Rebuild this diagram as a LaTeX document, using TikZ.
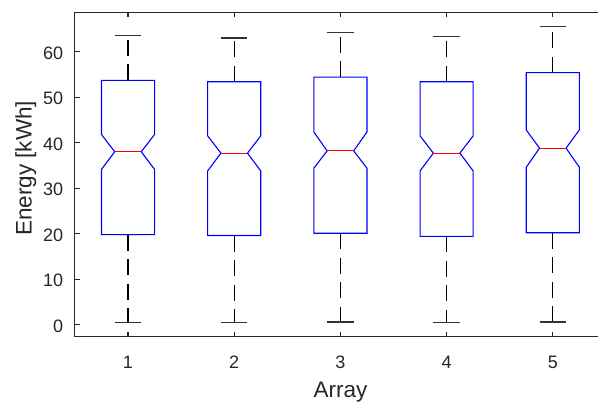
\documentclass[tikz,border=0pt]{standalone}
\usepackage{fontspec}
\setmainfont{Liberation Sans}
\usepackage{tikz}
\definecolor{axisgray}{RGB}{38,38,38}
\definecolor{boxblue}{RGB}{0,0,255}
\definecolor{medred}{RGB}{255,0,0}
\tikzstyle{axisline} = [draw=axisgray, line width=1.1pt]
\tikzstyle{notchbox} = [draw=boxblue, line width=1.1pt]
\tikzstyle{median} = [draw=medred, line width=1.1pt]
\tikzstyle{whisker} = [draw=black, line width=1.1pt, dash pattern=on 16pt off 8.5pt]
\tikzstyle{whiskercap} = [draw=black!80, line width=1.1pt]
\tikzstyle{ticklabel} = [text=axisgray, font=\fontsize{18}{20}\selectfont, inner sep=0pt]
\tikzstyle{axislabel} = [text=axisgray, font=\fontsize{22.5}{25}\selectfont, inner sep=0pt]

\begin{document}
\begin{tikzpicture}[x=106.2pt, y=4.55pt]

\useasboundingbox (-0.2053,-17.21) rectangle (5.4256,71.36);
\clip (-0.2053,-17.21) rectangle (5.4256,71.36);

\draw [axisline] (5.5,68.65) -- (0.5,68.65) -- (0.5,-2.65) -- (5.5,-2.65);

\foreach \v in {0,10,...,60} {
  \draw [axisline] (0.5,\v) -- ++(0.047,0);
  \node (ytick\v) [ticklabel, anchor=east, yshift=-1.5pt] at (0.39,\v) {\v};
}
\foreach \k in {1,...,5} {
  \draw [axisline] (\k,-2.65) -- ++(0,1.1);
  \draw [axisline] (\k,68.65) -- ++(0,-1.1);
  \node (xtick\k) [ticklabel, anchor=base] at (\k,-9.52) {\k};
}

\foreach \k/\lo/\qa/\na/\md/\nb/\qb/\hi in {
  1/0.5/19.8/34.15/38.0/41.8/53.7/63.6,
  2/0.4/19.6/33.8/37.7/41.5/53.4/63.0,
  3/0.6/20.1/34.4/38.2/42.35/54.4/64.3,
  4/0.44/19.4/33.8/37.7/41.5/53.4/63.3,
  5/0.6/20.2/34.6/38.8/42.8/55.4/65.5} {
  \draw [whisker] (\k,\qb) -- (\k,\hi);
  \draw [whisker] (\k,\qa) -- (\k,\lo);
  \draw [whiskercap] (\k-0.125,\hi) -- (\k+0.125,\hi);
  \draw [whiskercap] (\k-0.125,\lo) -- (\k+0.125,\lo);
  \draw [notchbox] (\k-0.25,\qa) -- (\k-0.25,\na) -- (\k-0.125,\md) -- (\k-0.25,\nb)
    -- (\k-0.25,\qb) -- (\k+0.25,\qb) -- (\k+0.25,\nb) -- (\k+0.125,\md)
    -- (\k+0.25,\na) -- (\k+0.25,\qa) -- cycle;
  \draw [median] (\k-0.125,\md) -- (\k+0.125,\md);
}

\node (xlabel) [axislabel, anchor=base] at (3,-16.04) {Array};
\node (ylabel) [axislabel, anchor=base, rotate=90] at (0.0932,34.37) {Energy [kWh]};

\end{tikzpicture}
\end{document}
